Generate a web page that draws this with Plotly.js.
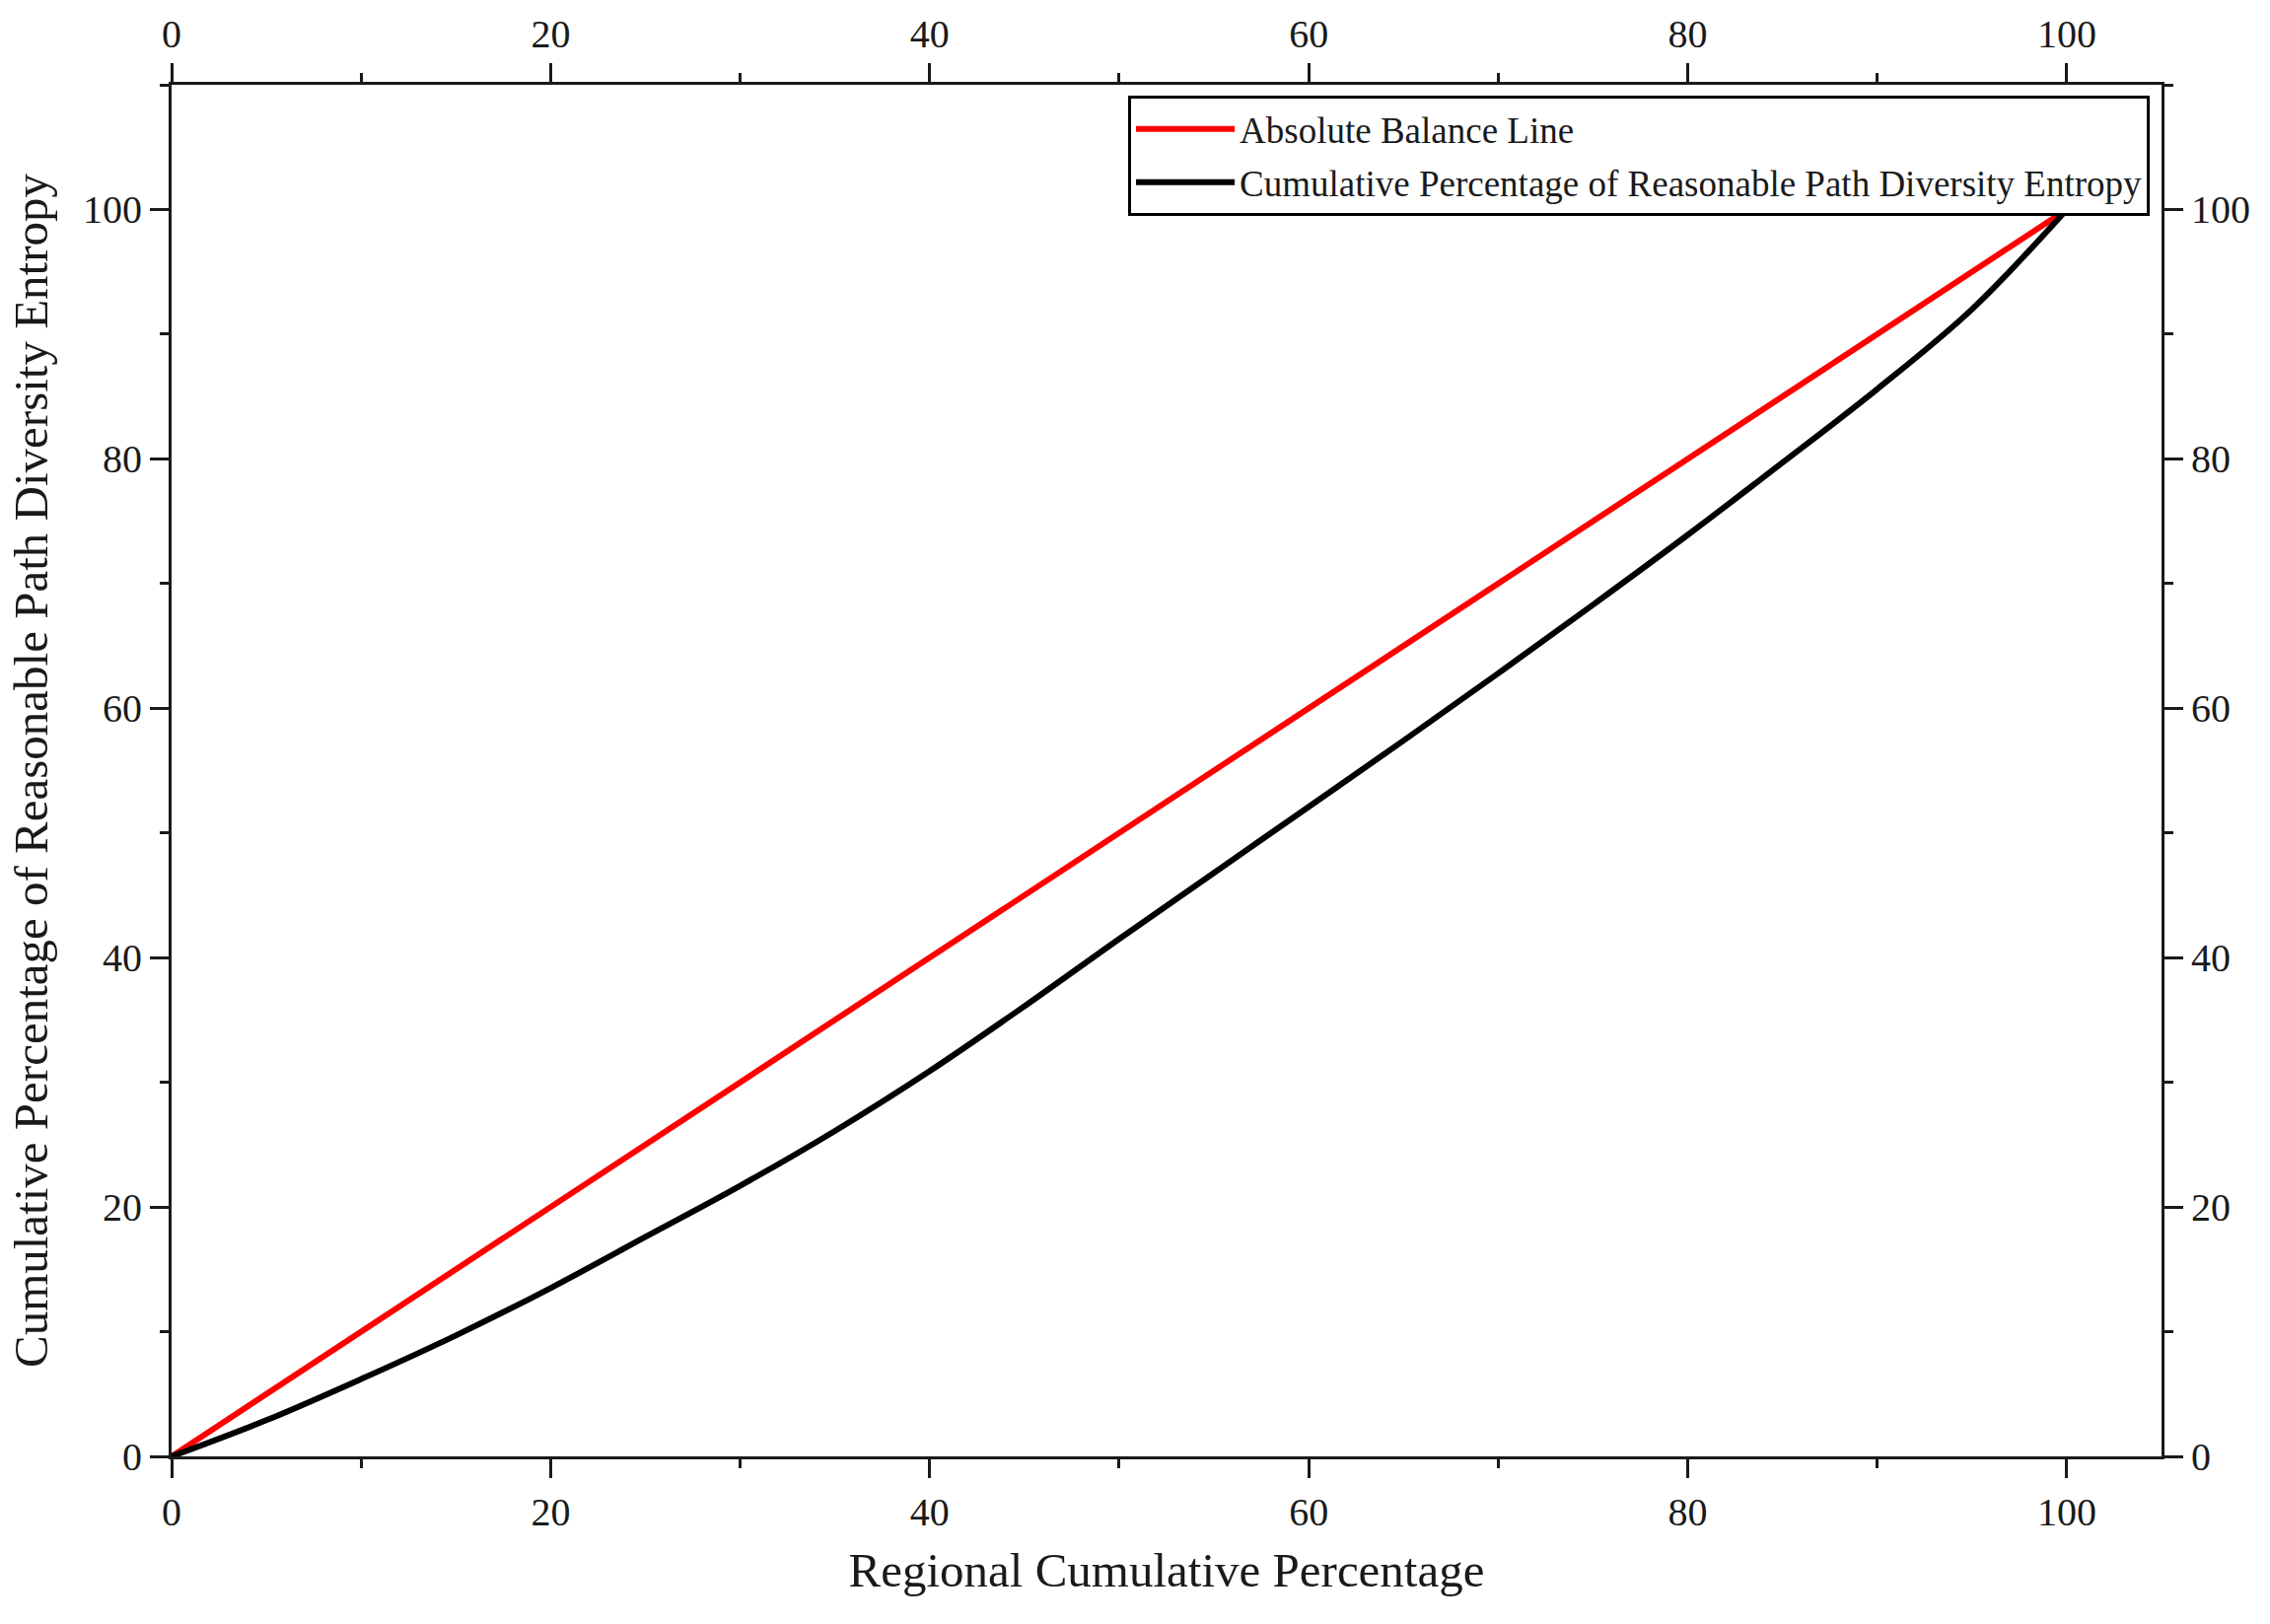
<!DOCTYPE html>
<html>
<head>
<meta charset="utf-8">
<script src="https://cdn.plot.ly/plotly-3.0.1.min.js"></script>
<style>
  html, body { margin: 0; padding: 0; background: #ffffff; }
  #chart { width: 2302px; height: 1647px; }
</style>
</head>
<body>
<div id="chart"></div>
<script>
// values
var balanceX = [0, 100];
var balanceY = [0, 100];

var regionPct  = [0, 5, 10, 15, 20, 25, 30, 35, 40, 45, 50, 55, 60, 65, 70, 75, 80, 85, 90, 95, 100];
var entropyPct = [0, 2.9, 6.2, 9.7, 13.5, 17.6, 21.7, 26.1, 30.9, 36.1, 41.5, 46.8, 52.1, 57.4, 62.8, 68.3, 73.9, 79.7, 85.6, 92.0, 100];

var seriesNames = ['Absolute Balance Line', 'Cumulative Percentage of Reasonable Path Diversity Entropy'];
var xTitle = 'Regional Cumulative Percentage';
var yTitle = 'Cumulative Percentage of Reasonable Path Diversity Entropy';

var FONT = 'Liberation Serif, Times New Roman, serif';
var INK = '#1a1a1a';

var traces = [
	{
		name: seriesNames[0],
		legendgroup: 'balance',
		x: balanceX,
		y: balanceY,
		mode: 'lines',
		xaxis: 'x',
		yaxis: 'y',
		line: { color: '#ff0000', width: 6 }
	},
	{
		name: seriesNames[1],
		legendgroup: 'entropy',
		x: regionPct,
		y: entropyPct,
		mode: 'lines',
		xaxis: 'x2',
		yaxis: 'y2',
		line: { color: '#000000', width: 6, shape: 'spline', smoothing: 1 }
	}
];

function axisStyle(extra){
	var base = {
		showline: true,
		linecolor: INK,
		linewidth: 3,
		showgrid: false,
		zeroline: false,
		ticks: 'outside',
		ticklen: 19,
		tickwidth: 3,
		tickcolor: INK,
		tick0: 0,
		dtick: 20,
		minor: { dtick: 10, ticks: 'outside', ticklen: 9, tickwidth: 3, tickcolor: INK, showgrid: false },
		tickfont: { family: FONT, size: 40, color: INK },
		fixedrange: true
	};
	for (var k in extra) base[k] = extra[k];
	return base;
}

var layout = {
	width: 2302,
	height: 1647,
	margin: { l: 174, r: 110, t: 86, b: 170 },
	paper_bgcolor: '#ffffff',
	plot_bgcolor: '#ffffff',
	showlegend: true,
	xaxis: axisStyle({
		range: [0, 105],
		side: 'bottom',
		anchor: 'y',
		title: { text: xTitle, font: { family: FONT, size: 49, color: INK }, standoff: 20 }
	}),
	yaxis: axisStyle({
		range: [0, 110],
		side: 'left',
		anchor: 'x',
		title: { text: yTitle, font: { family: FONT, size: 49, color: INK }, standoff: 20 }
	}),
	xaxis2: axisStyle({
		range: [0, 105],
		side: 'top',
		overlaying: 'x',
		anchor: 'y2'
	}),
	yaxis2: axisStyle({
		range: [0, 110],
		side: 'right',
		overlaying: 'y',
		anchor: 'x2'
	}),
	legend: {
		x: 0.4807,
		y: 0.992,
		xanchor: 'left',
		yanchor: 'top',
		bgcolor: '#ffffff',
		bordercolor: '#000000',
		borderwidth: 3,
		traceorder: 'grouped',
		tracegroupgap: 3,
		itemwidth: 100,
		font: { family: FONT, size: 37, color: INK }
	}
};

Plotly.newPlot('chart', traces, layout, { staticPlot: true, displayModeBar: false });
</script>
</body>
</html>
